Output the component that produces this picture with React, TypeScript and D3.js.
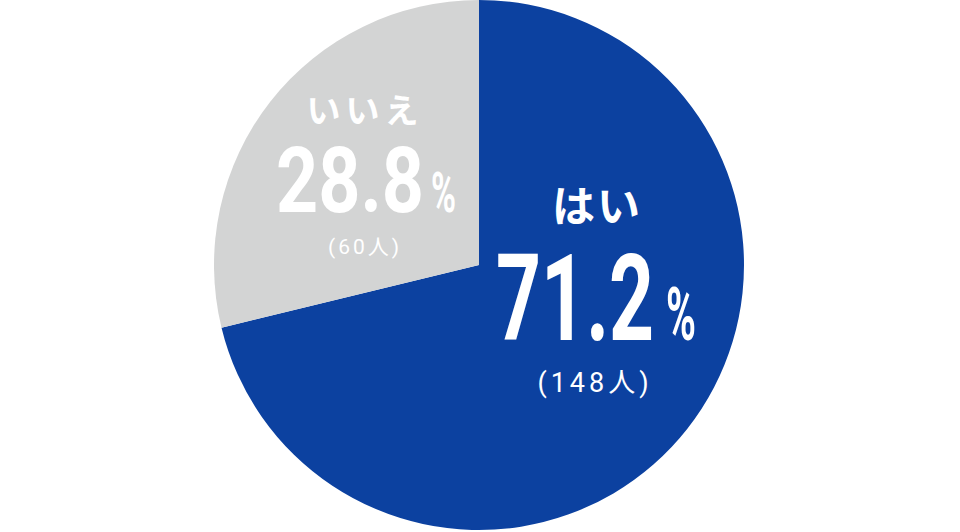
import { useEffect, useRef } from 'react';
import * as d3 from 'd3';

// answer categories and shares (%)
const answers = ['はい', 'いいえ'];
const shares = [71.2, 28.8];
const counts = [148, 60];
const colors = ['#0c41a0', '#d3d4d4'];

const W = 960;
const H = 532;

const App: React.FC = () => {
  const ref = useRef<SVGSVGElement | null>(null);

  useEffect(() => {
    if (!ref.current) return;
    const svg = d3.select(ref.current);
    svg.selectAll('*').remove();

    const cx = 479;
    const cy = 265;
    const r = 265;

    const pie = d3.pie<number>().sort(null).value(d => d);
    const arc = d3.arc<d3.PieArcDatum<number>>().innerRadius(0).outerRadius(r);

    const g = svg.append('g').attr('transform', `translate(${cx},${cy})`);
    g.selectAll('path')
      .data(pie(shares))
      .enter()
      .append('path')
      .attr('d', arc)
      .attr('fill', (_, i) => colors[i]);

    // label layout, relative to the pie centre
    const layout = [
      { name: { x: 118, y: -43, size: 43, ls: 2 }, num: { x: 17, y: 75, w: 158, size: 120 }, pct: { x: 187, w: 30, size: 74 }, cnt: { x: 116, y: 127, size: 27, ls: 4 } },
      { name: { x: -114, y: -142, size: 34, ls: 5 }, num: { x: -203, y: -53, w: 148, size: 90 }, pct: { x: -48, w: 25, size: 56 }, cnt: { x: -114, y: -11, size: 21, ls: 3 } },
    ];

    // draws a horizontally squeezed text so that it spans the given width
    const squeezed = (txt: string, x: number, y: number, w: number, size: number) => {
      const t = g.append('text')
        .attr('fill', '#fff')
        .style('font-family', 'Roboto')
        .style('font-weight', 700)
        .style('font-size', `${size}px`)
        .text(txt);
      const len = (t.node() as SVGTextElement).getComputedTextLength() || w;
      t.attr('transform', `translate(${x},${y}) scale(${w / len},1)`);
    };

    answers.forEach((name, i) => {
      const L = layout[i];
      g.append('text')
        .attr('x', L.name.x)
        .attr('y', L.name.y)
        .attr('text-anchor', 'middle')
        .attr('fill', '#fff')
        .style('font-family', "'Noto Sans CJK JP'")
        .style('font-weight', 700)
        .style('font-size', `${L.name.size}px`)
        .style('letter-spacing', `${L.name.ls}px`)
        .text(name);

      squeezed(shares[i].toFixed(1), L.num.x, L.num.y, L.num.w, L.num.size);
      squeezed('%', L.pct.x, L.num.y, L.pct.w, L.pct.size);

      g.append('text')
        .attr('x', L.cnt.x)
        .attr('y', L.cnt.y)
        .attr('text-anchor', 'middle')
        .attr('fill', '#fff')
        .style('font-family', "Roboto, 'Noto Sans CJK JP'")
        .style('font-weight', 400)
        .style('font-size', `${L.cnt.size}px`)
        .style('letter-spacing', `${L.cnt.ls}px`)
        .text(`(${counts[i]}人)`);
    });

    return () => {
      svg.selectAll('*').remove();
    };
  }, []);

  return (
    <svg
      ref={ref}
      width={W}
      height={H}
      style={{ position: 'absolute', left: 0, top: 0, display: 'block', background: '#fff' }}
    />
  );
};

export default App;
